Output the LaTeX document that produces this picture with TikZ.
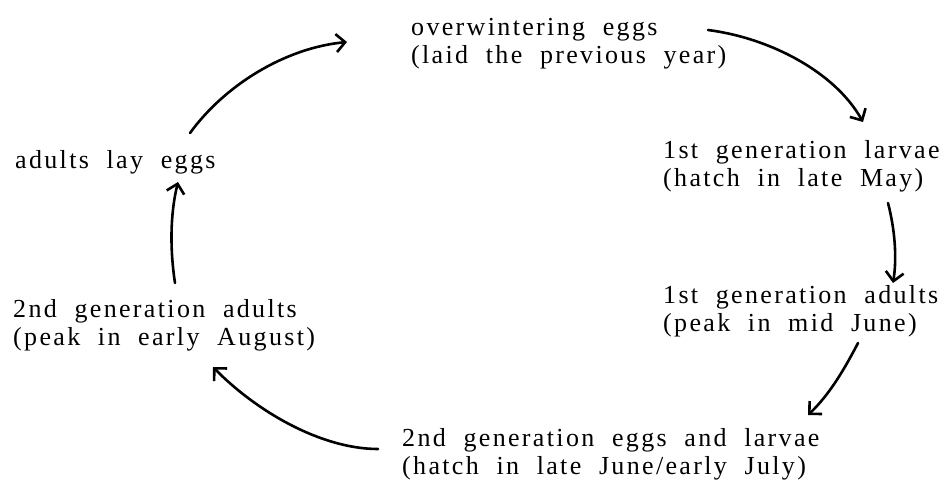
\documentclass[tikz,border=0pt]{standalone}
\usepackage{fontspec}
\setmainfont{Liberation Serif}[LetterSpace=9,WordSpace=2.0]
\usepackage{tikz}
\usetikzlibrary{arrows.meta}

\begin{document}
\begin{tikzpicture}[x=1pt,y=-1pt]
            \tikzstyle{every node}=[anchor=base west, align=left, inner sep=0pt, font=\fontsize{26}{28}\selectfont];
            \tikzstyle{cycle arrow}=[line width=2.6pt, line cap=round, -{Straight Barb[length=9pt,width=18pt]}];
            \useasboundingbox (0,0) rectangle (947,481);
            % base anchor sits on the last line
            \node (eggs) at (411,64) {overwintering eggs\\(laid the previous year)};
            \node (larvaeA) at (663,186) {1st generation larvae\\(hatch in late May)};
            \node (adultsA) at (663,331) {1st generation adults\\(peak in mid June)};
            \node (larvaeB) at (402,474) {2nd generation eggs and larvae\\(hatch in late June/early July)};
            \node (adultsB) at (13,345) {2nd generation adults\\(peak in early August)};
            \node (laying) at (15,168) {adults lay eggs};
            % arrow ends
            \coordinate (e1) at (708,30);   \coordinate (l1) at (863,122);
            \coordinate (l2) at (888,203);  \coordinate (a1) at (893,283);
            \coordinate (a2) at (858,343);  \coordinate (l3) at (808,415);
            \coordinate (l4) at (378,449);  \coordinate (a3) at (213,367);
            \coordinate (a4) at (175,283);  \coordinate (y1) at (178,182);
            \coordinate (y2) at (190,133);  \coordinate (e2) at (347,42);
            \draw[cycle arrow] (e1) .. controls (770,38) and (835,72) .. (l1);
            \draw[cycle arrow] (l2) .. controls (895,230) and (897,258) .. (a1);
            \draw[cycle arrow] (a2) .. controls (845,368) and (830,394) .. (l3);
            \draw[cycle arrow] (l4) .. controls (320,449) and (255,410) .. (a3);
            \draw[cycle arrow] (a4) .. controls (170,250) and (170,215) .. (y1);
            \draw[cycle arrow] (y2) .. controls (225,85) and (285,48) .. (e2);
        \end{tikzpicture}
\end{document}
